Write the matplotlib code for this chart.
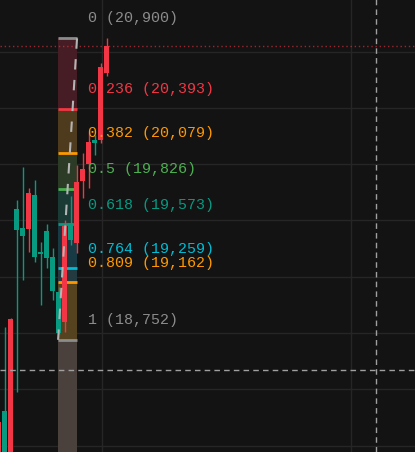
import matplotlib
matplotlib.use("Agg")
import matplotlib.pyplot as plt
from matplotlib.patches import Rectangle

# candles (korean colouring: red = up, teal = down)
bar_idx = list(range(-1, 18))
opens = [17827, 18247, 17614, 19684, 19549, 19541, 19783, 19378, 19527, 19342,
         19093, 18880, 19584, 19442, 19883, 20004, 20174, 20174, 20651]
highs = [18190, 18844, 18905, 19748, 19982, 19833, 19890, 19449, 19577, 19406,
         19129, 19605, 19776, 19997, 20082, 20231, 20210, 20722, 20900]
lows = [17700, 17700, 17600, 18382, 19179, 19378, 19307, 19001, 19264, 19037,
        18795, 18809, 19428, 19371, 19762, 19833, 20068, 20153, 20630]
closes = [18169, 17756, 18901, 19534, 19492, 19798, 19342, 19364, 19335, 19101,
          18802, 19563, 19463, 19876, 19968, 20160, 20153, 20687, 20840]

# fibonacci retracement
fib_high = 20900
fib_low = 18752
fib_levels = [0, 0.236, 0.382, 0.5, 0.618, 0.764, 0.809, 1]
fib_colors = ['#8c8c8c', '#f23645', '#ff9800', '#4caf50', '#089981', '#00bcd4', '#ff9800', '#8c8c8c']
zone_colors = ['#461d25', '#4e3a1c', '#2b3b26', '#1a3a36', '#183a44', '#223a40', '#55431f']
ext_level = 1.618
ext_color = '#4a413c'

grid_prices = [18000, 18400, 18800, 19200, 19600, 20000, 20400, 20800]
vgrid_idx = [16.17, 57.6]

cross_x = 61.75
cross_y = 18539

UP = '#f23645'
DOWN = '#089981'
BG = '#131313'


def fib_price(lvl):
    return fib_high - lvl * (fib_high - fib_low)


fig = plt.figure(figsize=(4.155, 4.525), dpi=100, facecolor=BG)
ax = fig.add_axes([0, 0, 1, 1])
ax.set_facecolor(BG)
ax.set_xlim(-0.75, 68.4)
ax.set_ylim(17955, 21170)
for s in ax.spines.values():
    s.set_visible(False)
ax.set_xticks([])
ax.set_yticks([])

for p in grid_prices:
    ax.axhline(p, color='#262626', lw=1, zorder=0)
for v in vgrid_idx:
    ax.axvline(v, color='#262626', lw=1, zorder=0)

# fib zones
x0, x1 = 8.92, 12.08
all_lv = fib_levels + [ext_level]
all_zone = zone_colors + [ext_color]
for i in range(len(all_lv) - 1):
    top = fib_price(all_lv[i])
    bot = fib_price(all_lv[i + 1])
    ax.add_patch(Rectangle((x0, bot), x1 - x0, top - bot, facecolor=all_zone[i],
                           edgecolor='none', zorder=1))
for lvl, col in zip(fib_levels, fib_colors):
    p = fib_price(lvl)
    ax.plot([x0, x1], [p, p], color=col, lw=2, zorder=2, solid_capstyle='butt')
    ax.annotate(f"{lvl:g} ({p:,.0f})", (13.9, p), xytext=(0, 20),
                textcoords='offset pixels', color=col, fontsize=10.8,
                family='Liberation Mono', va='center', ha='left', zorder=6)

# candles
for i, o, h, l, c in zip(bar_idx, opens, highs, lows, closes):
    col = UP if c >= o else DOWN
    ax.vlines(i, l, h, color=col, lw=1, zorder=3)
    b = min(o, c)
    hgt = max(abs(c - o), 8)
    ax.bar(i, hgt, bottom=b, width=0.8, color=col, zorder=3, linewidth=0)

# trend line of the fib
ax.plot([x0, x1], [fib_low, fib_high], color='#b4b4b4', lw=1.5,
        dashes=(5, 5), zorder=4)

# last price line and crosshair
ax.axhline(closes[-1], color='#f23645', lw=1, ls=(0, (1, 2)), alpha=0.6, zorder=2)
ax.axvline(cross_x, color='#a0a0a0', lw=1, dashes=(4, 3), zorder=5)
ax.axhline(cross_y, color='#a0a0a0', lw=1, dashes=(4, 3), zorder=5)

fig.savefig('out.png', dpi=100, facecolor=BG)
